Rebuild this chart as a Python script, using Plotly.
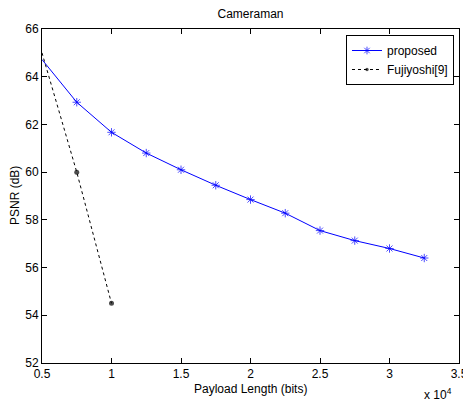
import plotly.graph_objects as go

payload_proposed = [5000, 7500, 10000, 12500, 15000, 17500, 20000, 22500, 25000, 27500, 30000, 32500]
psnr_proposed = [64.72, 62.93, 61.67, 60.8, 60.1, 59.45, 58.85, 58.28, 57.55, 57.13, 56.8, 56.4]
payload_fuji = [5000, 7500, 10000]
psnr_fuji = [65.0, 60.0, 54.5]
x_ticks = [5000, 10000, 15000, 20000, 25000, 30000, 35000]
x_ticktext = ["0.5", "1", "1.5", "2", "2.5", "3", "3.5"]
y_ticks = [52, 54, 56, 58, 60, 62, 64, 66]

FONT = "Liberation Sans, Arial, sans-serif"
FS = 12

# first point sits on the axis edge, where the reference shows no marker
prop_sizes = [0] + [7] * (len(payload_proposed) - 1)
fuji_sizes = [0] + [5] * (len(payload_fuji) - 1)

fig = go.Figure()
fig.add_trace(go.Scatter(
    x=payload_proposed, y=psnr_proposed, name="proposed", mode="lines+markers",
    line=dict(color="#0000ff", width=1),
    marker=dict(symbol="asterisk-open", size=prop_sizes, line=dict(color="#0000ff", width=1)),
))
fig.add_trace(go.Scatter(
    x=payload_fuji, y=psnr_fuji, name="Fujiyoshi[9]", mode="lines+markers",
    line=dict(color="black", width=1, dash="dot"),
    marker=dict(symbol="circle", size=fuji_sizes, color="black", line=dict(width=0)),
))

axis_common = dict(
    showline=True, linecolor="black", linewidth=1, mirror="ticks",
    ticks="inside", ticklen=5, tickcolor="black", showgrid=False, zeroline=False,
    automargin=False,
    tickfont=dict(family=FONT, size=FS, color="black"),
)
W, H = 463, 394
fig.update_layout(
    width=W, height=H, autosize=False,
    margin=dict(l=34, r=12, t=21, b=39, autoexpand=False),
    paper_bgcolor="white", plot_bgcolor="white",
    title=dict(text="Cameraman", x=0.5, xanchor="center", xref="paper",
               y=1 - 6 / H, yanchor="middle",
               font=dict(family=FONT, size=FS, color="black")),
    xaxis=dict(range=[5000, 35000], tickvals=x_ticks, ticktext=x_ticktext, **axis_common),
    yaxis=dict(range=[52, 66], tickvals=y_ticks, **axis_common),
    legend=dict(x=0.988, xanchor="right", y=0.982, yanchor="top",
                bordercolor="black", borderwidth=1, bgcolor="white",
                font=dict(family=FONT, size=FS, color="black"),
                tracegroupgap=0, itemsizing="trace"),
    showlegend=True,
)
fig.add_annotation(text="Payload Length (bits)", xref="paper", yref="paper", x=0.5, y=0,
                   xanchor="center", yanchor="middle", yshift=-26, showarrow=False,
                   font=dict(family=FONT, size=FS, color="black"))
fig.add_annotation(text="PSNR (dB)", xref="paper", yref="paper", x=0, y=0.5, textangle=-90,
                   xanchor="center", yanchor="middle", xshift=-27, showarrow=False,
                   font=dict(family=FONT, size=FS, color="black"))
fig.add_annotation(text="x 10<sup>4</sup>", xref="paper", yref="paper", x=1, y=0,
                   xanchor="right", yanchor="top", xshift=-5, yshift=-21, showarrow=False,
                   font=dict(family=FONT, size=FS, color="black"))
fig.write_html("out.html")
